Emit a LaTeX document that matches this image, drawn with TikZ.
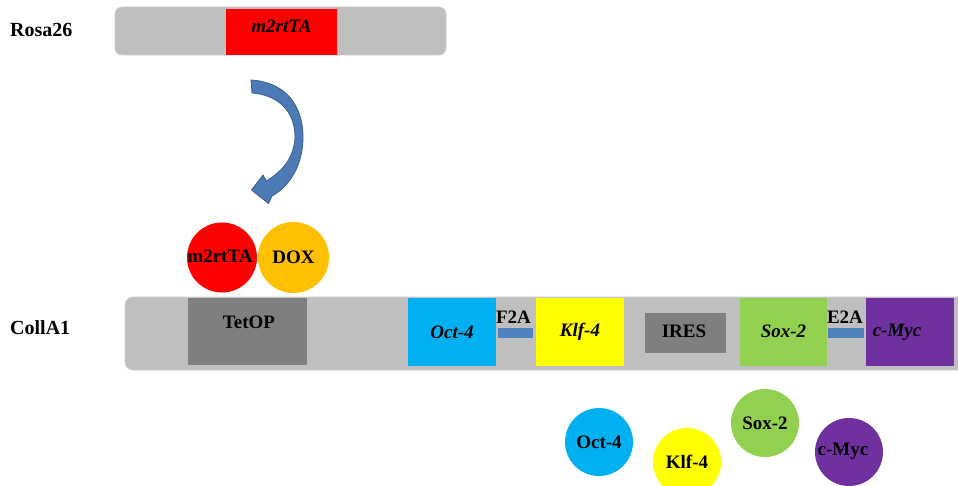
\documentclass[tikz,border=0pt]{standalone}
\usepackage{fontspec}
\setmainfont{Liberation Serif}
\definecolor{barg}{RGB}{191,191,191}
\definecolor{baredge}{RGB}{205,205,205}
\definecolor{darkg}{RGB}{127,127,127}
\definecolor{cred}{RGB}{255,0,0}
\definecolor{corange}{RGB}{255,192,0}
\definecolor{cblue}{RGB}{0,176,240}
\definecolor{cyellow}{RGB}{255,255,0}
\definecolor{cgreen}{RGB}{146,208,80}
\definecolor{cpurple}{RGB}{112,48,160}
\definecolor{linkblue}{RGB}{79,129,189}
\definecolor{arrowblue}{RGB}{76,122,180}
\definecolor{arrowdark}{RGB}{56,95,145}
\begin{document}
\begin{tikzpicture}[x=1pt,y=1pt,
  lbl/.style={font=\fontsize{19}{21}\selectfont\bfseries, inner sep=0pt, text=black},
  biglbl/.style={font=\fontsize{20}{22}\selectfont\bfseries, inner sep=0pt, text=black},
  ilbl/.style={font=\fontsize{19}{21}\selectfont\bfseries\itshape, inner sep=0pt, text=black},
  gene/.style={rectangle, inner sep=0pt, draw=none, minimum height=68pt},
  link/.style={rectangle, inner sep=0pt, draw=none, fill=linkblue, minimum height=10pt},
  circ/.style={circle, inner sep=0pt, draw=none, minimum size=70pt}]
\clip (0,0) rectangle (958,-486);
\fill[white] (0,0) rectangle (958,-486);

% Rosa26 locus
\node[biglbl, anchor=west] (rosalbl) at (10,-30) {Rosa26};
\filldraw[fill=barg, draw=baredge, line width=0.6pt, rounded corners=7pt] (115,-7) rectangle (446,-55);
\node[gene, fill=cred, minimum width=111pt, minimum height=46pt] (rosatta) at (281.5,-32) {};
\node[ilbl] (rosattatxt) at (281.5,-26) {m2rtTA};

% curved arrow
\filldraw[fill=arrowblue, draw=arrowdark, line width=0.8pt, line join=round]
  (251,-80) .. controls (285,-82) and (303,-105) .. (303,-137)
  .. controls (303,-165) and (290,-186) .. (272,-196)
  -- (268.5,-203.5) -- (251.5,-190) -- (263,-175) -- (266.5,-181)
  .. controls (284,-170) and (294,-157) .. (295,-137)
  .. controls (295,-112) and (279,-95) .. (252,-93) -- cycle;

% activator circles
\node[circ, fill=cred] (tta) at (222,-257.5) {};
\node[lbl] (ttatxt) at (220,-256) {m2rtTA};
\node[circ, fill=corange, lbl, minimum size=71pt] (dox) at (293.5,-257.5) {DOX};

% CollA1 locus
\node[biglbl, anchor=west] (colllbl) at (10,-327.5) {CollA1};
\filldraw[fill=barg, draw=baredge, line width=0.6pt, rounded corners=8pt] (125,-297) rectangle (975,-370);
\node[gene, fill=darkg, minimum width=119pt, minimum height=67pt] (tetop) at (247.5,-331.5) {};
\node[lbl] (tetoptxt) at (249,-322) {TetOP};
\node[gene, fill=cblue, minimum width=88pt, ilbl] (oct) at (452,-332) {Oct-4};
\node[link, minimum width=35pt] (f2a) at (515.5,-333) {};
\node[lbl] (f2atxt) at (513.5,-317.5) {F2A};
\node[gene, fill=cyellow, minimum width=88pt, ilbl] (klf) at (580,-332) {Klf-4};
\node[gene, fill=darkg, minimum width=81pt, minimum height=40pt] (ires) at (685.5,-333) {};
\node[lbl] (irestxt) at (684,-331) {IRES};
\node[gene, fill=cgreen, minimum width=87pt, ilbl] (sox) at (783.5,-331.5) {Sox-2};
\node[link, minimum width=36pt] (e2a) at (846,-333) {};
\node[lbl] (e2atxt) at (845,-317.5) {E2A};
\node[gene, fill=cpurple, minimum width=88pt] (myc) at (910,-332) {};
\node[ilbl] (myctxt) at (897,-332) {c-Myc};

% protein circles
\node[circ, fill=cblue, minimum size=68pt, lbl] (octP) at (599,-442) {Oct-4};
\node[circ, fill=cyellow, minimum size=68pt, lbl] (klfP) at (687,-462) {Klf-4};
\node[circ, fill=cgreen, minimum size=68pt, lbl] (soxP) at (765,-423) {Sox-2};
\node[circ, fill=cpurple, minimum size=68pt] (mycP) at (849,-452) {};
\node[lbl] (mycPtxt) at (843,-451) {c-Myc};
\end{tikzpicture}
\end{document}
